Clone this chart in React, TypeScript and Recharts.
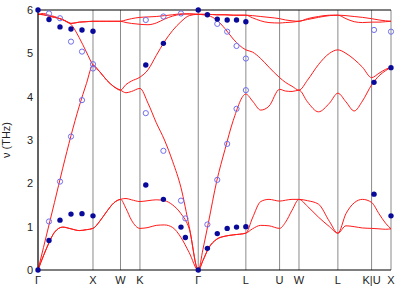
import {
  ComposedChart,
  Line,
  Scatter,
  XAxis,
  YAxis,
  CartesianGrid,
  ReferenceLine,
} from "recharts";

// path coordinate along Γ-X-W-K-Γ-L-U-W-L-K|U-X
const kPath = [
  0, 0.1, 0.2, 0.3, 0.45, 0.6, 0.75, 0.88, 1.0,
  1.12, 1.25, 1.38, 1.5,
  1.6, 1.7, 1.854,
  2.0, 2.15, 2.3, 2.45, 2.6, 2.75, 2.914,
  3.0, 3.1, 3.25, 3.4, 3.55, 3.78,
  3.9, 4.05, 4.2, 4.393,
  4.5, 4.62, 4.746,
  4.9, 5.1, 5.3, 5.453,
  5.6, 5.75, 5.9, 6.066,
  6.2, 6.32, 6.419,
];

// calculated branches (THz)
const taLower = [
  0, 0.33, 0.63, 0.87, 0.99, 0.95, 0.91, 0.93, 0.96,
  1.12, 1.35, 1.55, 1.63,
  1.42, 1.15, 0.96,
  0.98, 1.03, 1.04, 0.98, 0.75, 0.4, 0,
  0.22, 0.5, 0.71, 0.78, 0.81, 0.85,
  0.95, 1.03, 1.02, 0.96,
  1.1, 1.38, 1.63,
  1.47, 1.22, 1.0, 0.85,
  1.02, 1.0, 0.97, 0.96,
  0.95, 0.94, 0.95,
];
const taUpper = [
  0, 0.33, 0.63, 0.87, 0.99, 0.95, 0.91, 0.93, 0.96,
  1.12, 1.35, 1.55, 1.63,
  1.65, 1.62, 1.58,
  1.6, 1.62, 1.6, 1.5, 1.3, 0.95, 0,
  0.22, 0.5, 0.71, 0.78, 0.81, 0.85,
  1.2, 1.58, 1.63, 1.59,
  1.61, 1.63, 1.63,
  1.6, 1.52, 1.12, 0.85,
  1.3, 1.55, 1.63, 1.56,
  1.3, 1.08, 0.95,
];
const la = [
  0, 0.52, 1.04, 1.56, 2.35, 3.1, 3.78, 4.3, 4.73,
  4.58, 4.38, 4.23, 4.15,
  4.09, 4.12, 4.19,
  3.85, 3.4, 3.0, 2.5, 1.9, 1.0, 0,
  0.48, 1.1, 2.05, 2.78, 3.45, 4.06,
  3.9, 3.69, 3.78, 4.17,
  4.13, 4.12, 4.15,
  3.88, 3.65, 3.85, 4.08,
  3.88, 3.67, 3.9, 4.27,
  4.48, 4.6, 4.68,
];
const lo = [
  5.9, 5.92, 5.88, 5.85, 5.77, 5.67, 5.36, 5.03, 4.73,
  4.58, 4.38, 4.23, 4.15,
  4.28, 4.36, 4.45,
  4.62, 4.95, 5.27, 5.53, 5.73, 5.87, 5.9,
  5.89, 5.87, 5.77, 5.57, 5.33, 5.08,
  5.03, 4.88, 4.68, 4.44,
  4.33, 4.24, 4.15,
  4.38, 4.74, 5.0, 5.08,
  5.0, 4.86, 4.68, 4.44,
  4.54, 4.63, 4.68,
];
const toUpper = [
  5.9, 5.89, 5.86, 5.83, 5.78, 5.69, 5.72, 5.73, 5.74,
  5.74, 5.74, 5.74, 5.74,
  5.77, 5.8, 5.83,
  5.84, 5.85, 5.87, 5.89, 5.91, 5.91, 5.9,
  5.9, 5.9, 5.89, 5.89, 5.88, 5.88,
  5.87, 5.85, 5.83, 5.8,
  5.77, 5.75, 5.74,
  5.8, 5.85, 5.88, 5.88,
  5.87, 5.85, 5.83, 5.8,
  5.77, 5.75, 5.74,
];
const toLower = [
  5.9, 5.89, 5.86, 5.83, 5.78, 5.69, 5.72, 5.73, 5.74,
  5.74, 5.74, 5.74, 5.74,
  5.71, 5.69, 5.67,
  5.66, 5.7, 5.79, 5.86, 5.9, 5.91, 5.9,
  5.9, 5.9, 5.89, 5.89, 5.88, 5.88,
  5.82, 5.75, 5.71, 5.7,
  5.71, 5.72, 5.74,
  5.78, 5.83, 5.87, 5.88,
  5.8, 5.73, 5.71, 5.72,
  5.72, 5.73, 5.74,
];

// measured points
const filledQ = [
  0, 0, 0.2, 0.2, 0.4, 0.4, 0.6, 0.6, 0.8, 0.8, 1.0, 1.0,
  1.96, 1.96, 2.28, 2.28, 2.6, 2.68, 2.914, 2.914,
  3.08, 3.08, 3.26, 3.26, 3.44, 3.44, 3.61, 3.61, 3.78, 3.78,
  6.11, 6.11, 6.419, 6.419,
];
const filledNu = [
  0, 6.0, 0.68, 5.78, 1.15, 5.61, 1.29, 5.56, 1.3, 5.54, 1.25, 5.51,
  1.96, 4.73, 1.63, 5.23, 0.99, 0.75, 0, 6.0,
  0.5, 5.89, 0.84, 5.79, 0.96, 5.77, 0.99, 5.77, 1.0, 5.73,
  1.75, 4.33, 1.25, 4.67,
];
const openQ = [
  0.2, 0.2, 0.4, 0.4, 0.6, 0.6, 0.8, 0.8, 1.0, 1.0,
  1.96, 1.96, 2.28, 2.28, 2.6, 2.6, 2.68,
  3.08, 3.26, 3.26, 3.44, 3.44, 3.61, 3.61, 3.78, 3.78,
  6.11, 6.419,
];
const openNu = [
  1.12, 5.92, 2.04, 5.81, 3.08, 5.27, 3.92, 5.04, 4.65, 4.75,
  3.62, 5.77, 2.75, 5.85, 1.6, 5.92, 1.19,
  1.05, 2.08, 5.68, 2.91, 5.5, 3.72, 5.17, 4.15, 4.88,
  5.54, 5.5,
];

const symPos = [0, 1, 1.5, 1.854, 2.914, 3.78, 4.393, 4.746, 5.453, 6.066, 6.419];
const symNames = ["Γ", "X", "W", "K", "Γ", "L", "U", "W", "L", "K|U", "X"];
const nuTicks = [0, 1, 2, 3, 4, 5, 6];

const bands = kPath.map((k, i) => ({
  k,
  ta1: taLower[i],
  ta2: taUpper[i],
  la: la[i],
  lo: lo[i],
  to1: toUpper[i],
  to2: toLower[i],
}));
const filledPts = filledQ.map((k, i) => ({ k, nu: filledNu[i] }));
const openPts = openQ.map((k, i) => ({ k, nu: openNu[i] }));

const FONT = "'Liberation Sans', Arial, sans-serif";
const branchKeys = ["ta1", "ta2", "la", "lo", "to1", "to2"];

export default function App() {
  return (
    <div style={{ position: "absolute", left: 0, top: 0, background: "#fff" }}>
      <ComposedChart
        width={415}
        height={291}
        data={bands}
        margin={{ top: 10, right: 24, bottom: 0, left: 0 }}
      >
        <CartesianGrid horizontal={false} stroke="#8a8a8a" strokeWidth={1} />
        <XAxis
          dataKey="k"
          type="number"
          domain={[0, 6.419]}
          ticks={symPos}
          tickFormatter={(v) => symNames[symPos.indexOf(v)] ?? ""}
          interval={0}
          height={21}
          tickSize={0}
          tickMargin={6}
          axisLine={{ stroke: "#000" }}
          tick={{ fill: "#222", fontSize: 11, fontFamily: FONT }}
        />
        <YAxis
          type="number"
          domain={[0, 6]}
          ticks={nuTicks}
          width={38}
          tickSize={0}
          tickMargin={5}
          axisLine={{ stroke: "#000" }}
          tick={{ fill: "#222", fontSize: 11, fontFamily: FONT }}
          label={{
            value: "ν (THz)",
            angle: -90,
            position: "insideLeft",
            offset: 6,
            style: { fill: "#222", fontSize: 11, fontFamily: FONT, textAnchor: "middle" },
          }}
        />
        <YAxis
          yAxisId="r"
          orientation="right"
          type="number"
          domain={[0, 6]}
          ticks={nuTicks}
          width={0}
          mirror
          tickSize={4}
          axisLine={false}
          tickLine={{ stroke: "#555" }}
          tickFormatter={() => ""}
        />
        <ReferenceLine y={6} stroke="#000" strokeWidth={1} />
        {branchKeys.map((key) => (
          <Line
            key={key}
            dataKey={key}
            type="monotone"
            stroke="#ff1a1a"
            strokeWidth={1}
            dot={false}
            activeDot={false}
            isAnimationActive={false}
          />
        ))}
        <Scatter
          data={openPts}
          dataKey="nu"
          isAnimationActive={false}
          shape={(p: any) => (
            <circle cx={p.cx} cy={p.cy} r={2.6} fill="none" stroke="#6f6fee" strokeWidth={1} />
          )}
        />
        <Scatter
          data={filledPts}
          dataKey="nu"
          isAnimationActive={false}
          shape={(p: any) => <circle cx={p.cx} cy={p.cy} r={2.7} fill="#0a0a9a" />}
        />
      </ComposedChart>
    </div>
  );
}
